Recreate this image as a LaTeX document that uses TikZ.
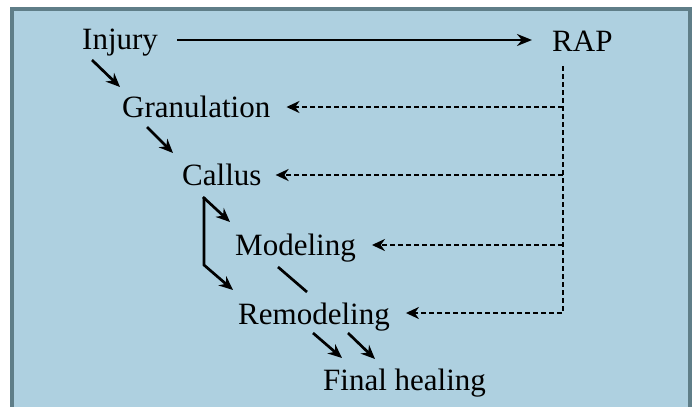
\documentclass[tikz,border=0pt]{standalone}
\usepackage{fontspec}
\setmainfont{Liberation Serif}
\usetikzlibrary{arrows.meta}
\definecolor{panelblue}{HTML}{AED0E0}
\definecolor{panelrim}{HTML}{5F7E88}

\tikzset{
        lbl/.style={inner sep=0pt, anchor=base west, font=\fontsize{31}{36}\selectfont},
        stagearrow/.style={line width=2.7pt, -{Stealth[length=14pt,width=12pt]}},
        rapline/.style={line width=2.5pt, dash pattern=on 5pt off 3pt, -{Stealth[length=13pt,width=12pt]}}
}

\begin{document}
\begin{tikzpicture}[x=1pt,y=-1pt]
        \useasboundingbox (0,0) rectangle (694,407);
        \fill[white] (0,0) rectangle (694,407);
        \draw[panelrim, fill=panelblue, line width=4pt] (11.5,9) rectangle (690,430);

        \node[lbl] (injury) at (82,49) {Injury};
        \node[lbl] (rap) at (552,51) {RAP};
        \node[lbl] (gran) at (122,117) {Granulation};
        \node[lbl] (callus) at (182,185) {Callus};
        \node[lbl] (model) at (235,255) {Modeling};
        \node[lbl] (remodel) at (238,324) {Remodeling};
        \node[lbl] (final) at (323,390) {Final healing};

        \draw[line width=2.3pt, -{Stealth[length=15pt,width=12pt]}]
                ([xshift=19pt,yshift=9pt]injury.base east) -- ([xshift=-20pt,yshift=11pt]rap.base west);

        \draw[stagearrow] ([xshift=10pt,yshift=-11pt]injury.base west) -- ([xshift=-2pt,yshift=30pt]gran.base west);
        \draw[stagearrow] ([xshift=25pt,yshift=-10pt]gran.base west) -- ([xshift=-9pt,yshift=32pt]callus.base west);
        \draw[stagearrow] ([xshift=21pt,yshift=-12pt]callus.base west) -- ([xshift=-5pt,yshift=33pt]model.base west);
        \draw[stagearrow] ([xshift=22pt,yshift=-12pt]callus.base west) -- ++(0,68) -- ([xshift=-5pt,yshift=34pt]remodel.base west);
        \draw[line width=2.7pt] ([xshift=43pt,yshift=-12pt]model.base west) -- ([xshift=69pt,yshift=32pt]remodel.base west);
        \draw[stagearrow] ([xshift=75pt,yshift=-9pt]remodel.base west) -- ([xshift=19pt,yshift=32pt]final.base west);
        \draw[stagearrow] ([xshift=110pt,yshift=-9pt]remodel.base west) -- ([xshift=52pt,yshift=31pt]final.base west);

        % RAP feeds back into every stage
        \coordinate (bustop) at ([xshift=11pt,yshift=-15pt]rap.base west);
        \coordinate (gran-in) at ([xshift=16pt,yshift=10pt]gran.base east);
        \coordinate (callus-in) at ([xshift=14pt,yshift=10pt]callus.base east);
        \coordinate (model-in) at ([xshift=16pt,yshift=10pt]model.base east);
        \coordinate (remodel-in) at ([xshift=16pt,yshift=11pt]remodel.base east);

        \foreach \st in {gran,callus,model}
                \draw[rapline] (bustop |- \st-in) -- (\st-in);
        \draw[rapline] (bustop) |- (remodel-in);
\end{tikzpicture}
\end{document}
